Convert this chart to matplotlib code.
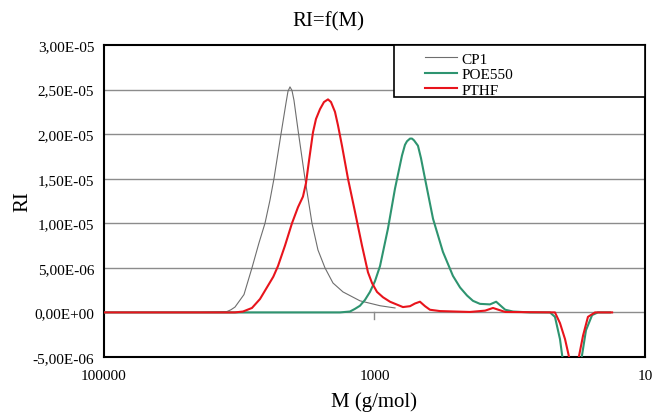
import numpy as np
import matplotlib
matplotlib.use("Agg")
import matplotlib.pyplot as plt
from matplotlib.patches import Rectangle
from matplotlib.ticker import FuncFormatter, NullLocator

plt.rcParams["font.family"] = ["Liberation Serif", "DejaVu Serif"]

# molar mass (g/mol) and RI (RI in units of 1e-6)
cp1_m = [100000, 19510, 12320, 11510, 10750, 9225, 8050, 7145, 6450, 5925, 5536,
         4913, 4510, 4361, 4215, 4074, 3938, 3678, 3265, 2898, 2617, 2323, 2027,
         1710, 1280, 910, 705]
cp1_ri = [0, 0, 0.1, 0.3, 0.6, 2.0, 5.0, 7.8, 10.0, 12.6, 15.0,
          20.0, 23.5, 24.8, 25.3, 24.9, 23.8, 20.5, 15.0, 10.0, 7.0, 5.0, 3.3,
          2.3, 1.3, 0.75, 0.5]

poe_m = [100000, 1799, 1518, 1394, 1280, 1176, 1080, 992, 910, 795, 705, 626,
         595, 575, 546, 528, 510, 477, 453, 423, 369, 312, 263, 233, 207, 187,
         166, 140, 126, 108, 94.6, 70.8, 50.4, 46.3, 42.5, 40.4, 34.6, 29.7,
         27.3, 24.6, 22.3, 18.1]
poe_ri = [0, 0, 0.1, 0.4, 0.75, 1.4, 2.3, 3.5, 5.2, 9.4, 13.9, 17.6,
          18.8, 19.2, 19.5, 19.5, 19.3, 18.7, 17.3, 15.0, 10.5, 6.8, 4.1, 2.8, 1.9, 1.3,
          0.96, 0.9, 1.2, 0.3, 0.1, 0, 0, -0.5, -3.0, -5.5, -10.0, -5.5,
          -2.0, -0.3, 0, 0]

pthf_m = [100000, 10750, 9382, 8050, 7024, 6131, 5600, 5170, 4587, 4074, 3678, 3378,
          3210, 3050, 2849, 2707, 2529, 2363, 2207, 2097, 1959, 1862, 1739, 1570,
          1394, 1237, 1117, 1043, 958, 865, 768, 616, 546, 502, 461, 423, 389,
          328, 197, 152, 133, 108, 46.3, 42.5, 39.0, 35.8, 33.5, 31.3, 28.7,
          26.4, 23.4, 17.5]
pthf_ri = [0, 0, 0.1, 0.5, 1.5, 3.0, 4.0, 5.2, 7.5, 10.0, 11.8, 13.0,
           14.5, 17.0, 20.2, 21.7, 22.8, 23.6, 23.9, 23.6, 22.5, 21.0, 18.7, 15.0,
           11.3, 7.5, 4.5, 3.3, 2.3, 1.7, 1.2, 0.6, 0.7, 1.0, 1.2, 0.7, 0.3,
           0.15, 0.05, 0.2, 0.5, 0.05, 0, -1.2, -3.0, -5.5, -9.0, -5.5, -2.6,
           -0.5, 0, 0]

yticks = [-5e-6, 0, 5e-6, 1e-5, 1.5e-5, 2e-5, 2.5e-5, 3e-5]
xticks = [1e5, 1e3, 1e1]

fig = plt.figure(figsize=(6.54, 4.14), dpi=100)
ax = fig.add_axes([0.159, 0.1353, 0.8272, 0.7536])

for y in yticks[1:-1]:
    ax.axhline(y, color="#8c8c8c", lw=1.0, zorder=1)

ax.plot(cp1_m, np.array(cp1_ri) * 1e-6, color="#6e6e6e", lw=0.8, label="CP1", zorder=3)
ax.plot(poe_m, np.array(poe_ri) * 1e-6, color="#2e9470", lw=1.5, label="POE550", zorder=3)
ax.plot(pthf_m, np.array(pthf_ri) * 1e-6, color="#e8141c", lw=1.5, label="PTHF", zorder=4)

ax.set_xscale("log")
ax.set_xlim(1e5, 10)
ax.set_ylim(-5e-6, 3e-5)
ax.set_xticks(xticks)
ax.set_xticklabels(["100000", "1000", "10"])
ax.xaxis.set_minor_locator(NullLocator())
ax.set_yticks(yticks)
ax.yaxis.set_major_formatter(FuncFormatter(lambda v, p: f"{v:.2E}".replace(".", ",")))
ax.tick_params(length=0, labelsize=11, pad=7)
ax.tick_params(axis="x", pad=9)
for s in ax.spines.values():
    s.set_linewidth(1.5)

# small tick on the zero line at 1000
ax.axvline(1000, ymin=0.122, ymax=0.143, color="#8c8c8c", lw=1.0, zorder=2)

# legend box
ax.add_patch(Rectangle((0.536, 0.833), 0.464, 0.167, transform=ax.transAxes,
                       facecolor="white", edgecolor="black", lw=1.2, zorder=5))
leg = ax.legend(loc="upper left", bbox_to_anchor=(0.574, 1.012), frameon=False,
                fontsize=11, labelspacing=0.12, handlelength=2.1, handletextpad=0.3,
                borderpad=0.2)
leg.set_zorder(6)

fig.text(328 / 654, 1 - 22 / 414, "RI=f(M)", ha="center", va="center", fontsize=15)
ax.set_xlabel("M (g/mol)", fontsize=15, labelpad=6)
ax.set_ylabel("RI", fontsize=15, labelpad=0)

fig.savefig("out.png", dpi=100)
